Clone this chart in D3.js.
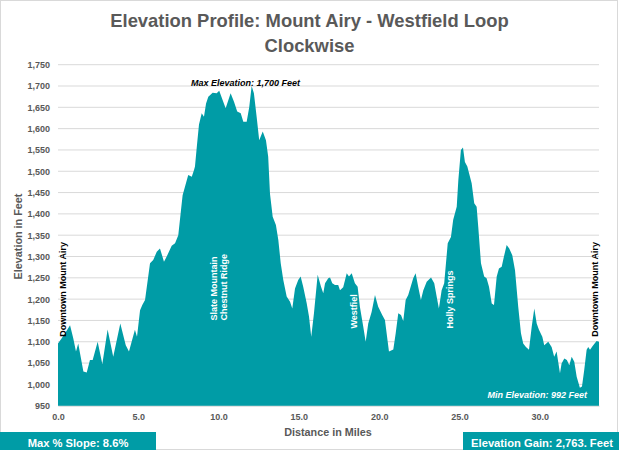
<!DOCTYPE html>
<html><head><meta charset="utf-8">
<script src="https://cdn.jsdelivr.net/npm/d3@7"></script>
<style>
html,body{margin:0;padding:0;background:#fff;}
svg{display:block;font-family:"Liberation Sans",Arial,sans-serif;}
</style></head>
<body>
<script>
const titleLines = ["Elevation Profile: Mount Airy - Westfield Loop", "Clockwise"];
const distance = [0.00,0.23,0.44,0.75,0.95,1.12,1.26,1.58,1.79,1.99,2.16,2.47,2.76,3.09,3.44,3.88,4.22,4.42,4.79,4.92,
 5.11,5.25,5.42,5.73,5.93,6.15,6.35,6.60,6.77,7.08,7.29,7.49,7.66,7.76,8.11,8.33,8.47,8.53,8.65,8.78,8.95,9.09,9.22,9.36,
 9.63,9.88,10.04,10.29,10.44,10.75,10.96,11.16,11.38,11.54,11.75,11.91,12.06,12.20,12.37,12.53,12.75,12.95,13.09,13.20,
 13.37,13.57,13.72,13.87,14.03,14.24,14.45,14.59,14.76,14.96,15.11,15.27,15.49,15.63,15.77,15.94,16.17,16.38,16.52,16.63,
 16.83,16.94,17.08,17.25,17.45,17.56,17.76,17.98,18.12,18.29,18.49,18.66,18.80,19.01,19.16,19.32,19.53,19.74,19.94,20.19,
 20.36,20.61,20.88,21.03,21.19,21.36,21.50,21.65,21.81,22.12,22.27,22.43,22.60,22.75,22.96,23.23,23.43,23.58,23.72,23.89,
 24.05,24.27,24.47,24.61,24.83,24.93,25.09,25.22,25.34,25.49,25.76,25.92,26.07,26.17,26.34,26.54,26.69,26.84,27.01,27.15,
 27.32,27.46,27.63,27.77,27.94,28.10,28.29,28.46,28.66,28.83,28.97,29.14,29.33,29.50,29.66,29.81,29.95,30.16,30.28,30.53,
 30.74,30.90,31.05,31.26,31.36,31.53,31.69,31.84,31.99,32.15,32.30,32.50,32.63,32.77,32.92,33.02,33.13,33.33,33.54,33.69];
const elevation = [1096,1108,1120,1139,1108,1077,1096,1030,1028,1057,1057,1100,1048,1129,1065,1143,1092,1077,1128,1112,
 1174,1186,1198,1284,1292,1311,1319,1288,1300,1325,1331,1350,1409,1444,1491,1487,1503,1511,1560,1610,1636,1628,1659,1675,
 1684,1683,1689,1663,1648,1683,1663,1640,1636,1616,1616,1651,1700,1683,1628,1573,1593,1573,1534,1448,
 1393,1374,1339,1284,1245,1206,1194,1178,1225,1245,1253,1229,1190,1159,1112,1167,1257,1229,1214,1237,
 1249,1251,1237,1233,1233,1221,1228,1261,1253,1261,1237,1229,1182,1135,1100,1143,1170,1210,1182,1163,
 1151,1077,1082,1120,1167,1163,1149,1198,1210,1249,1261,1229,1198,1221,1241,1251,1237,1206,1178,1221,
 1237,1331,1346,1386,1417,1479,1550,1556,1522,1511,1472,1425,1417,1370,1284,1253,1249,1229,1190,1186,
 1253,1272,1276,1300,1327,1319,1303,1268,1182,1120,1096,1088,1081,1135,1178,1143,1128,1112,1092,1100,
 1088,1065,1077,1026,1049,1061,1057,1045,1065,1053,1018,992,995,1034,1081,1088,1081,1092,1102,1100];
const yTicks = [950,1000,1050,1100,1150,1200,1250,1300,1350,1400,1450,1500,1550,1600,1650,1700,1750];
const xTicks = [0,5,10,15,20,25,30];
const placeLabels = [
  {text:"Slate Mountain", mi:9.70},
  {text:"Chestnut Ridge", mi:10.32},
  {text:"Westfiel", mi:18.43},
  {text:"Holly Springs", mi:24.41}
];
const maxLabel = "Max Elevation: 1,700 Feet";
const minLabel = "Min Elevation: 992 Feet";
const endLabel = "Downtown Mount Airy";
const slopeText = "Max % Slope: 8.6%";
const gainText = "Elevation Gain: 2,763. Feet";

const W = 619, H = 450;
const teal = "#009ca6";
const grey = "#595959";
const svg = d3.select("body").append("svg").attr("width", W).attr("height", H);

svg.append("rect").attr("x",0.5).attr("y",0.5).attr("width",617).attr("height",449)
  .attr("fill","#fff").attr("stroke","#d9d9d9");

const x = d3.scaleLinear().domain([0, d3.max(distance)]).range([58, 599]);
const y = d3.scaleLinear().domain([950, 1750]).range([405.7, 64.7]);

// title
svg.selectAll("text.title").data(titleLines).join("text").attr("class","title")
  .attr("x", 309.5).attr("y", (d,i)=>27 + i*24.5)
  .attr("text-anchor","middle").attr("font-size","18.4px").attr("font-weight","bold").attr("fill", grey)
  .text(d=>d);

// gridlines
svg.append("g").selectAll("line").data(yTicks).join("line")
  .attr("x1", 58).attr("x2", 599).attr("y1", d=>y(d)).attr("y2", d=>y(d))
  .attr("stroke","#d9d9d9").attr("stroke-width",1);

// y axis
const yAxis = svg.append("g").attr("transform","translate(58,0)")
  .call(d3.axisLeft(y).tickValues(yTicks).tickSize(0).tickPadding(8).tickFormat(d3.format(",")));
yAxis.select(".domain").remove();
yAxis.selectAll("text").attr("font-size","9px").attr("font-weight","bold").attr("fill",grey)
  .attr("font-family","Liberation Sans, Arial, sans-serif");

// x axis
const xAxis = svg.append("g").attr("transform","translate(0,405.7)")
  .call(d3.axisBottom(x).tickValues(xTicks).tickSize(0).tickPadding(8).tickFormat(d3.format(".1f")));
xAxis.select(".domain").attr("stroke","#d9d9d9");
xAxis.selectAll("text").attr("font-size","9px").attr("font-weight","bold").attr("fill",grey)
  .attr("font-family","Liberation Sans, Arial, sans-serif");

// area
const pts = distance.map((d,i)=>({mi:d, el:elevation[i]}));
const area = d3.area().x(d=>x(d.mi)).y0(y(950)).y1(d=>y(d.el));
svg.append("path").datum(pts).attr("d", area).attr("fill", teal);

// axis titles
svg.append("text").attr("x", 328).attr("y", 435.5).attr("text-anchor","middle")
  .attr("font-size","10.8px").attr("font-weight","bold").attr("fill",grey).text("Distance in Miles");
svg.append("text").attr("transform","translate(21.5,236.5) rotate(-90)").attr("text-anchor","middle")
  .attr("font-size","10.8px").attr("font-weight","bold").attr("fill",grey).text("Elevation in Feet");

// place labels (white, rotated)
svg.selectAll("text.place").data(placeLabels).join("text").attr("class","place")
  .attr("transform", d=>`translate(${x(d.mi)+3.3},${d.text==="Westfiel"||d.text==="Holly Springs"?328.5:320.5}) rotate(-90)`)
  .attr("font-size","9px").attr("font-weight","bold").attr("fill","#fff").text(d=>d.text);

// downtown labels
[0, d3.max(distance)].forEach((m,i)=>{
  svg.append("text").attr("transform",`translate(${i===0?65.6:597.6},336.7) rotate(-90)`)
    .attr("font-size","9px").attr("font-weight","bold").attr("fill","#000").text(endLabel);
});

// max / min labels
svg.append("text").attr("x", 191).attr("y", 86).attr("font-size","9px").attr("font-weight","bold")
  .attr("font-style","italic").attr("fill","#000").text(maxLabel);
svg.append("text").attr("x", 587).attr("y", 398.2).attr("text-anchor","end").attr("font-size","9px").attr("font-weight","bold")
  .attr("font-style","italic").attr("fill","#fff").text(minLabel);

// bottom boxes
svg.append("rect").attr("x",0).attr("y",432).attr("width",156).attr("height",18).attr("fill",teal);
svg.append("rect").attr("x",463).attr("y",432).attr("width",156).attr("height",18).attr("fill",teal);
svg.append("text").attr("x",78).attr("y",446.5).attr("text-anchor","middle").attr("font-size","11.2px")
  .attr("font-weight","bold").attr("fill","#fff").text(slopeText);
svg.append("text").attr("x",542).attr("y",446.5).attr("text-anchor","middle").attr("font-size","11.2px")
  .attr("font-weight","bold").attr("fill","#fff").text(gainText);
</script>
</body></html>
